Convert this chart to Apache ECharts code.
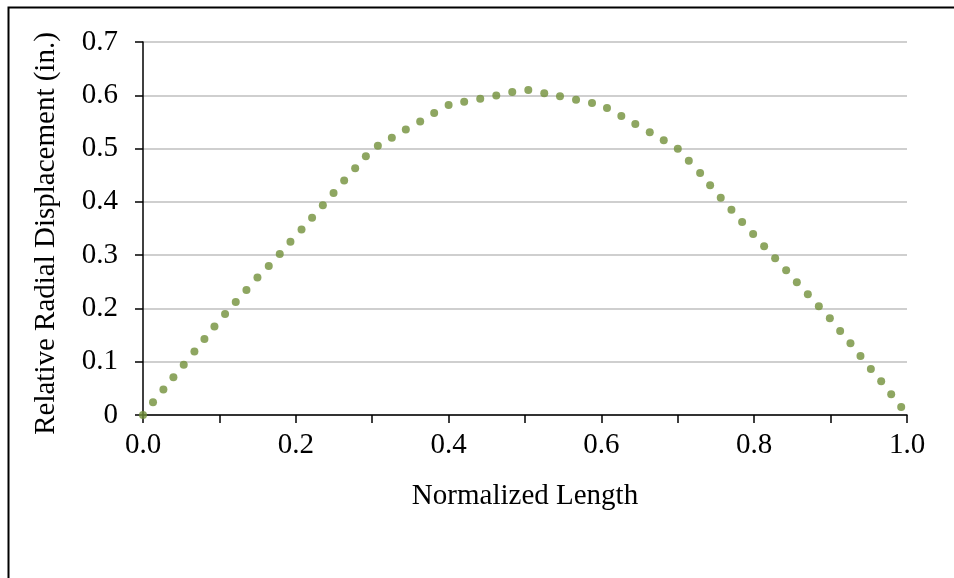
<!DOCTYPE html>
<html>
<head>
<meta charset="utf-8">
<script src="https://cdn.jsdelivr.net/npm/echarts@6/dist/echarts.min.js"></script>
<style>
  html, body { margin: 0; padding: 0; background: #fff; }
  #chart { width: 954px; height: 578px; }
</style>
</head>
<body>
<div id="chart"></div>
<script>
// normalized length along the member
const lengthPos = [
  0, 0.0131, 0.0267, 0.0398, 0.0533, 0.0673, 0.0804, 0.0935, 0.1074, 0.1214,
  0.1354, 0.1498, 0.1646, 0.179, 0.193, 0.2075, 0.2213, 0.2354, 0.2494, 0.2633,
  0.2777, 0.2917, 0.3074, 0.3257, 0.344, 0.3628, 0.3811, 0.4, 0.4204, 0.4414,
  0.4624, 0.4833, 0.5043, 0.5252, 0.5458, 0.5668, 0.5877, 0.6073, 0.6261, 0.6444,
  0.6633, 0.6816, 0.7, 0.7144, 0.7292, 0.7423, 0.7562, 0.7702, 0.7842, 0.7986,
  0.813, 0.8274, 0.8418, 0.8558, 0.8702, 0.8846, 0.899, 0.9125, 0.926, 0.9391,
  0.9527, 0.9662, 0.9793, 0.9924
]
// relative radial displacement (in.)
const radialDisp = [
  0, 0.024, 0.048, 0.071, 0.0945, 0.119, 0.1426, 0.166, 0.1895, 0.212,
  0.2345, 0.258, 0.2796, 0.302, 0.325, 0.348, 0.370, 0.3934, 0.4165, 0.4403,
  0.4629, 0.4854, 0.5054, 0.5204, 0.536, 0.551, 0.5666, 0.5816, 0.588, 0.5936,
  0.5998, 0.606, 0.6098, 0.6036, 0.598, 0.5917, 0.5854, 0.576, 0.561, 0.546,
  0.5304, 0.5154, 0.4998, 0.4773, 0.454, 0.431, 0.4079, 0.3854, 0.362, 0.3396,
  0.3165, 0.294, 0.2715, 0.249, 0.2265, 0.204, 0.1814, 0.1576, 0.1345, 0.1107,
  0.0863, 0.0632, 0.0388, 0.015
]

const font = '"Liberation Serif", "Times New Roman", serif'
const txt = { color: '#000', fontFamily: font, fontSize: 29 }

const chart = echarts.init(document.getElementById('chart'))
chart.setOption({
  animation: false,
  backgroundColor: '#fff',
  grid: { left: 143, right: 47, top: 42, bottom: 163 },
  graphic: [{
    type: 'rect',
    left: 6, top: 5,
    shape: { width: 2000, height: 2000 },
    style: { fill: 'none', stroke: '#000', lineWidth: 2 },
    silent: true,
  }],
  xAxis: {
    type: 'value',
    min: 0,
    max: 1,
    interval: 0.2,
    name: 'Normalized Length',
    nameLocation: 'middle',
    nameGap: 67,
    nameTextStyle: txt,
    axisLine: { lineStyle: { color: '#000', width: 1.5 } },
    axisTick: { length: 8, lineStyle: { color: '#000', width: 1.5 } },
    minorTick: { show: true, splitNumber: 2, length: 8, lineStyle: { color: '#000', width: 1.5 } },
    axisLabel: { ...txt, margin: 16, formatter: (v) => v.toFixed(1) },
    splitLine: { show: false },
  },
  yAxis: {
    type: 'value',
    min: 0,
    max: 0.7,
    interval: 0.1,
    name: 'Relative Radial Displacement (in.)',
    nameLocation: 'middle',
    nameGap: 82,
    nameTextStyle: { ...txt, padding: [0, 10, 0, 0] },
    axisLine: { show: true, lineStyle: { color: '#000', width: 1.5 } },
    axisTick: { show: true, length: 8, lineStyle: { color: '#000', width: 1.5 } },
    axisLabel: { ...txt, margin: 25, formatter: (v) => (v === 0 ? '0' : v.toFixed(1)) },
    splitLine: { lineStyle: { color: '#bfbfbf', width: 1.5 } },
  },
  series: [{
    type: 'scatter',
    symbol: 'circle',
    symbolSize: 8,
    itemStyle: { color: '#72903a' },
    data: lengthPos.map((x, i) => [x, radialDisp[i]]),
  }],
})
</script>
</body>
</html>
